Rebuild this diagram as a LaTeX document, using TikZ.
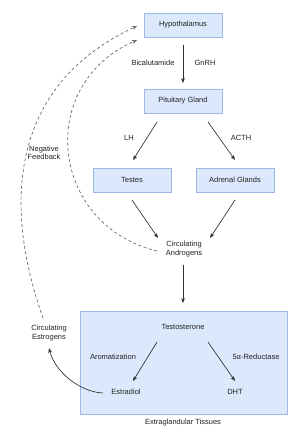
\documentclass[tikz,border=0pt]{standalone}
\usepackage{fontspec}
\setmainfont{Liberation Sans}
\usetikzlibrary{arrows.meta}
\definecolor{boxfill}{HTML}{DCE8FB}
\definecolor{boxline}{HTML}{9DB8E6}
\definecolor{txt}{HTML}{222222}
\definecolor{arrc}{HTML}{2E2E2E}
\definecolor{dashc}{HTML}{6A6A6A}
\begin{document}
\begin{tikzpicture}[x=1pt,y=-1pt,
  every node/.style={font=\fontsize{7.5}{8.6}\selectfont, text=txt},
  gbox/.style={draw=boxline, fill=boxfill, line width=0.7pt, minimum width=78pt, minimum height=24pt, inner sep=0pt},
  plain/.style={align=center, inner sep=1pt},
  arr/.style={draw=arrc, line width=0.65pt, -{Stealth[length=5pt,width=3.8pt]}},
  fb/.style={draw=dashc, line width=0.7pt, dash pattern=on 3pt off 2.5pt, -{Stealth[length=5pt,width=4pt]}}
]
\useasboundingbox (0,0) rectangle (300,443);
% tissue box
\node[draw=boxline, fill=boxfill, line width=0.7pt, minimum width=207pt, minimum height=103pt, inner sep=0pt] (ext) at (183.5,362.5) {};
\node[plain] (extlab) at (183,423) {Extraglandular Tissues};

\node[gbox] (hyp) at (183,25) {Hypothalamus};
\node[gbox] (pit) at (183,101) {Pituitary Gland};
\node[gbox] (tes) at (132,180) {Testes};
\node[gbox] (adr) at (235,180) {Adrenal Glands};
\node[plain] (ca) at (184,249) {Circulating\\Androgens};
\node[plain] (tst) at (183,327) {Testosterone};
\node[plain] (est) at (126,392) {Estradiol};
\node[plain] (dht) at (235,392) {DHT};
\node[plain] (ce) at (49,333) {Circulating\\Estrogens};

% labels
\node[plain] (bic) at (153,63) {Bicalutamide};
\node[plain] (gnrh) at (205,63) {GnRH};
\node[plain] (lh) at (129,138) {LH};
\node[plain] (acth) at (241,138) {ACTH};
\node[plain] (arom) at (113,357) {Aromatization};
\node[plain] (red) at (256,357) {5α-Reductase};
\node[plain] (nf) at (44,153) {Negative\\Feedback};

% coordinates for connector ends
\coordinate (a1) at (183,45); \coordinate (a2) at (183,83);
\coordinate (b1) at (157,122); \coordinate (b2) at (133,160);
\coordinate (c1) at (208,122); \coordinate (c2) at (235,160);
\coordinate (d1) at (132,200); \coordinate (d2) at (158,238);
\coordinate (e1) at (235,200); \coordinate (e2) at (210,238);
\coordinate (f1) at (183,265); \coordinate (f2) at (183,303);
\coordinate (g1) at (157,342); \coordinate (g2) at (133,381);
\coordinate (h1) at (208,342); \coordinate (h2) at (235,381);
\coordinate (k1) at (103,393); \coordinate (k2) at (49,348);
\coordinate (o1) at (43,318); \coordinate (o2) at (137,26);
\coordinate (i1) at (157,251); \coordinate (i2) at (137,40);

\draw[arr] (a1) -- (a2);
\draw[arr] (b1) -- (b2);
\draw[arr] (c1) -- (c2);
\draw[arr] (d1) -- (d2);
\draw[arr] (e1) -- (e2);
\draw[arr] (f1) -- (f2);
\draw[arr] (g1) -- (g2);
\draw[arr] (h1) -- (h2);
\draw[arr] (k1) .. controls (80,392) and (55,372) .. (k2);

\draw[fb] (o1) .. controls (8,220) and (0,90) .. (o2);
\draw[fb] (i1) .. controls (50,225) and (35,85) .. (i2);
\end{tikzpicture}
\end{document}
